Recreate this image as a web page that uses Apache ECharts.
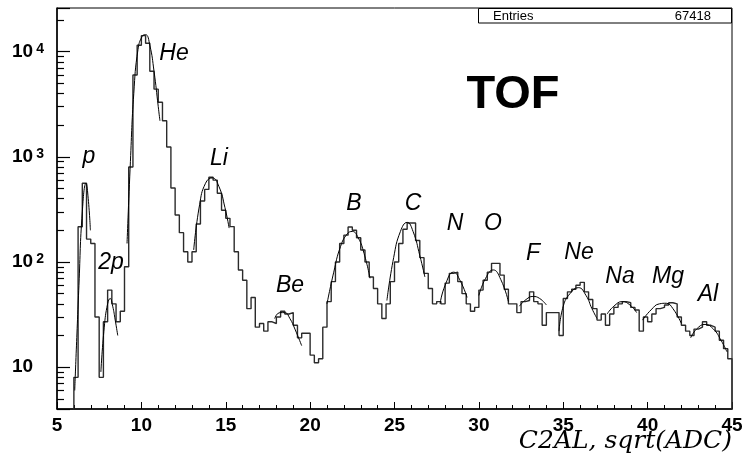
<!DOCTYPE html>
<html>
<head>
<meta charset="utf-8">
<title>TOF charge, C2AL</title>
<script src="https://cdn.jsdelivr.net/npm/echarts@6/dist/echarts.min.js"></script>
<style>html, body { margin: 0; padding: 0; background: #fff; }</style>
</head>
<body>
<div id="main" style="width:746px;height:467px;"></div>
<script>
// histogram bins: 0.25 wide, from 5 to 45 (counts)
var binStart = 5;
var binWidth = 0.25;
var counts5to15 = [0, 0, 0, 0, 8, 216, 560, 165, 150, 30,
                   8, 27, 54, 40, 27, 34, 90, 800, 6000, 11500,
                   14200, 12000, 6500, 4400, 3300, 2200, 1240, 506, 280, 190,
                   125, 100, 125, 230, 380, 490, 640, 600, 450, 310];
var counts15to25 = [260, 217, 125, 84, 67, 36, 46, 24, 26, 22,
                    27, 26, 30, 34, 32, 33, 25, 19, 21, 21,
                    13, 11, 12, 24, 42, 65, 100, 150, 180, 215,
                    200, 170, 130, 100, 72, 56, 40, 29, 40, 65];
var counts25to35 = [100, 150, 205, 235, 235, 160, 110, 78, 56, 40,
                    42, 40, 63, 78, 80, 65, 50, 40, 34, 37,
                    54, 67, 80, 97, 97, 75, 55, 40, 40, 33,
                    42, 43, 52, 42, 40, 25, 33, 33, 33, 20];
var counts35to45 = [45, 52, 55, 60, 64, 52, 44, 36, 28, 32,
                    25, 32, 37, 40, 42, 41, 37, 35, 22, 30,
                    27, 32, 36, 37, 39, 41, 40, 30, 25, 22,
                    20, 23, 24, 27, 25, 24, 22, 18, 15, 12];
var entries = 67418;

// gaussian fits, points [x, count]
var fitP  = [[6.05, 6], [6.3, 60], [6.5, 300], [6.72, 560], [6.85, 400], [6.98, 200]];
var fit2p = [[7.6, 9], [7.8, 24], [8.0, 40], [8.15, 45], [8.3, 38], [8.45, 28], [8.6, 20]];
var fitHe = [[9.15, 150], [9.35, 900], [9.55, 4000], [9.8, 10500], [10.05, 14000], [10.25, 14500],
             [10.5, 11500], [10.75, 6500], [11.0, 3000], [11.1, 2200]];
var fitLi = [[13.1, 130], [13.45, 350], [13.8, 560], [14.2, 630], [14.6, 520], [14.95, 330], [15.2, 210]];
var fitBe = [[17.9, 29], [18.2, 33], [18.5, 33], [18.8, 29], [19.1, 23], [19.5, 16]];
var fitB  = [[21.0, 40], [21.4, 80], [21.8, 140], [22.2, 185], [22.5, 195], [22.85, 170], [23.2, 120], [23.55, 70]];
var fitC  = [[24.55, 43], [24.95, 110], [25.35, 195], [25.75, 238], [26.1, 195], [26.5, 115], [26.8, 72]];
var fitN  = [[27.7, 40], [28.0, 60], [28.5, 80], [28.9, 66], [29.3, 46]];
var fitO  = [[30.0, 48], [30.4, 70], [30.85, 84], [31.3, 68], [31.75, 42]];
var fitF  = [[32.4, 38], [32.8, 44], [33.2, 47], [33.6, 45], [34.0, 39]];
var fitNe = [[34.75, 22], [35.0, 38], [35.4, 50], [35.9, 57], [36.35, 48], [36.7, 36], [37.0, 29]];
var fitNa = [[37.6, 32], [38.0, 38], [38.5, 42], [38.95, 39], [39.35, 33]];
var fitMg = [[39.7, 28], [40.2, 35], [40.7, 40], [41.1, 40.5], [41.5, 36], [42.0, 26]];
var fitAl = [[42.55, 19], [42.9, 23], [43.4, 25.5], [43.9, 23], [44.35, 18], [44.7, 14]];

var elementNames = ['p', '2p', 'He', 'Li', 'Be', 'B', 'C', 'N', 'O', 'F', 'Ne', 'Na', 'Mg', 'Al'];

// pixel anchors of the element labels (centre of the letters)
var labelPos = [[89, 157], [111, 263], [174, 54], [219, 159], [290, 286], [354, 204], [413, 204],
                [455, 224], [493, 224], [533, 254], [579, 253], [620, 277], [668, 277], [708, 295]];

var yMin = 4, yMax = 26000;

var counts = counts5to15.concat(counts15to25, counts25to35, counts35to45);
var lastEdge = binStart + counts.length * binWidth;
// empty bins go below the frame (log axis)
var histData = counts.map(function (c, i) {
  return [binStart + i * binWidth, c > 0 ? c : 1];
});
histData.push([lastEdge, counts[counts.length - 1]]);
histData.push([lastEdge, 1]);

var fits = [fitP, fit2p, fitHe, fitLi, fitBe, fitB, fitC, fitN, fitO, fitF, fitNe, fitNa, fitMg, fitAl];

var sans = 'Liberation Sans, Arial, Helvetica, sans-serif';

var series = [{
  name: 'C2AL',
  type: 'line',
  step: 'end',
  data: histData,
  showSymbol: false,
  symbol: 'none',
  clip: true,
  lineStyle: { color: '#2b2b2b', width: 1.4 },
  z: 2
}];
fits.forEach(function (f) {
  series.push({
    type: 'line',
    data: f,
    smooth: true,
    showSymbol: false,
    symbol: 'none',
    clip: true,
    lineStyle: { color: '#000', width: 1 },
    z: 3
  });
});

var graphics = elementNames.map(function (name, k) {
  return {
    type: 'text',
    x: labelPos[k][0],
    y: labelPos[k][1],
    style: {
      text: name,
      fill: '#000',
      font: 'italic 23px ' + sans,
      align: 'center',
      verticalAlign: 'middle'
    },
    z: 10
  };
});
graphics.push({
  type: 'text', x: 513, y: 95,
  style: { text: 'TOF', fill: '#000', font: 'bold 47px ' + sans, align: 'center', verticalAlign: 'middle' },
  z: 10
});
graphics.push({
  type: 'rect',
  shape: { x: 478.5, y: 8.5, width: 253, height: 14.5 },
  style: { fill: '#fff', stroke: '#000', lineWidth: 1 },
  z: 10
});
graphics.push({
  type: 'text', x: 493, y: 16,
  style: { text: 'Entries', fill: '#000', font: '13px ' + sans, align: 'left', verticalAlign: 'middle' },
  z: 11
});
graphics.push({
  type: 'text', x: 711, y: 16,
  style: { text: String(entries), fill: '#000', font: '13px ' + sans, align: 'right', verticalAlign: 'middle' },
  z: 11
});
graphics.push({
  type: 'text', x: 732, y: 441,
  style: { text: 'C2AL, sqrt(ADC)', fill: '#000', font: 'italic 25px DejaVu Serif, serif', align: 'right', verticalAlign: 'middle' },
  z: 10
});

var myChart = echarts.init(document.getElementById('main'), null, { renderer: 'canvas' });
var option = {
  animation: false,
  backgroundColor: '#fff',
  grid: { left: 57, right: 14, top: 8, bottom: 58, show: true, borderColor: '#000', borderWidth: 1 },
  xAxis: {
    type: 'value',
    min: 5,
    max: 45,
    interval: 5,
    axisLine: { onZero: false, lineStyle: { color: '#000', width: 1.5 } },
    axisTick: { inside: true, length: 7, lineStyle: { color: '#000' } },
    minorTick: { show: true, splitNumber: 5, length: 4, lineStyle: { color: '#000' } },
    splitLine: { show: false },
    axisLabel: { color: '#000', fontSize: 19, fontWeight: 'bold', fontFamily: sans, margin: 7,
                 showMinLabel: true, showMaxLabel: true }
  },
  yAxis: {
    type: 'log',
    logBase: 10,
    min: yMin,
    max: yMax,
    axisLine: { show: true, lineStyle: { color: '#000', width: 1.5 } },
    axisTick: { inside: true, length: 13, lineStyle: { color: '#000', width: 1.2 } },
    // log minor ticks at 2..9 of each decade
    minorTick: { show: true, splitNumber: 9, length: 7, lineStyle: { color: '#000', width: 1.2 } },
    splitLine: { show: false },
    axisLabel: {
      align: 'left',
      margin: 45,
      formatter: function (v) {
        var e = Math.log10(v);
        var r = Math.round(e);
        if (Math.abs(e - r) > 1e-6) return '';
        if (r === 1) return '{b|10}';
        return '{b|10}{s|' + r + '}';
      },
      rich: {
        b: { fontSize: 19, fontWeight: 'bold', fontFamily: sans, color: '#000' },
        s: { fontSize: 14, fontWeight: 'bold', fontFamily: sans, color: '#000',
             verticalAlign: 'top', lineHeight: 11, padding: [0, 0, 0, 3] }
      }
    }
  },
  graphic: graphics,
  series: series
};
myChart.setOption(option);
</script>
</body>
</html>
